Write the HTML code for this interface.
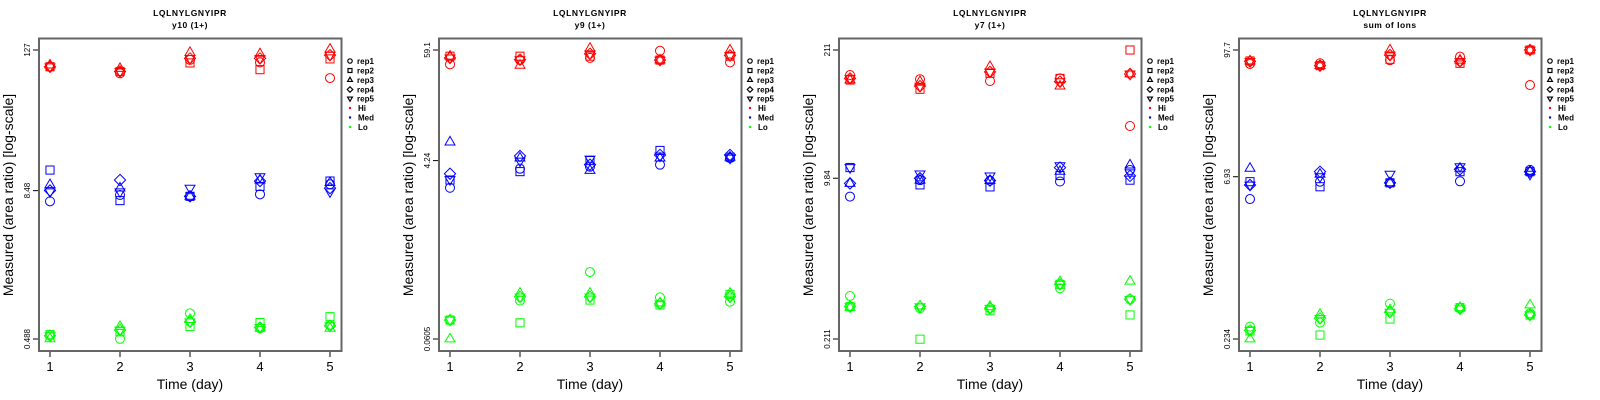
<!DOCTYPE html>
<html><head><meta charset="utf-8">
<style>
html,body{margin:0;padding:0;background:#fff;}
svg{display:block;font-family:"Liberation Sans",sans-serif;}
</style></head>
<body>
<svg id="chart" width="1600" height="400" viewBox="0 0 1600 400"></svg>
<script>
// ---- data ----
const days = [1,2,3,4,5];
const reps = ["rep1","rep2","rep3","rep4","rep5"];
const levels = ["Hi","Med","Lo"];
const panelTitles = ["y10 (1+)","y9 (1+)","y7 (1+)","sum of Ions"];
const peptide = "LQLNYLGNYIPR";
const yMin = [0.488, 0.0605, 0.211, 0.234];
const yMax = [127, 59.1, 211, 97.7];
const yMidTick = [8.48, 4.24, 9.84, 6.93];
const yTickLabels = [["0.488","8.48","127"],["0.0605","4.24","59.1"],["0.211","9.84","211"],["0.234","6.93","97.7"]];

// values[panel][level][day] = [rep1..rep5]
const p1Hi  = [[92,92,95,92,92],[81,84,89,84,84],[105,99,121,108,108],[100,87,118,108,108],[74,107,129,115,115]];
const p1Med = [[6.9,12.6,9.5,8.5,8.3],[7.8,7.0,8.9,10.4,8.3],[7.6,7.6,7.6,7.6,8.9],[7.9,9.2,10.4,10.2,11.1],[9.6,10.2,9.9,8.9,8.3]];
const p1Lo  = [[0.53,0.53,0.49,0.52,0.52],[0.49,0.56,0.62,0.58,0.58],[0.80,0.62,0.71,0.68,0.68],[0.60,0.67,0.60,0.61,0.61],[0.64,0.75,0.60,0.63,0.63]];
const p2Hi  = [[42,51,51,49,49],[46.5,51,41,47,47],[49,51,61.5,54,54],[58,46.5,46.5,46.5,46.5],[44,51,59,52,52]];
const p2Med = [[2.22,2.67,6.6,3.1,2.7],[3.5,3.26,4.5,4.73,4.2],[3.67,4.24,3.35,3.85,4.4],[3.85,5.4,4.5,4.85,4.73],[4.5,4.6,4.6,4.85,4.5]];
const p2Lo  = [[0.095,0.095,0.0605,0.095,0.095],[0.151,0.089,0.18,0.165,0.165],[0.298,0.153,0.18,0.165,0.165],[0.163,0.136,0.143,0.14,0.14],[0.147,0.175,0.18,0.165,0.165]];
const p3Hi  = [[116,103,103,107,107],[105,82.5,99,89,89],[100.6,121,142,125,125],[107,107,89,99,99],[34.3,211,119,119,119]];
const p3Med = [[6.35,12.7,8.7,8.7,12.7],[9.4,8.4,9.4,9.84,10.9],[9.3,8.0,9.3,9.3,10.4],[9.1,10.5,11.6,12.7,13.3],[12,9.4,13.5,10.4,11.2]];
const p3Lo  = [[0.59,0.457,0.45,0.457,0.457],[0.44,0.21,0.465,0.457,0.457],[0.44,0.415,0.457,0.44,0.44],[0.71,0.78,0.83,0.78,0.78],[0.545,0.375,0.84,0.545,0.545]];
const p4Hi  = [[73,77.7,77.7,77,77],[74,70.5,70.5,70.5,70.5],[79,80.5,97.7,88,88],[85,74,79,77,77],[47,97.7,97.7,97.7,97.7]];
const p4Med = [[4.35,6.25,8.26,5.83,5.83],[6.25,5.62,7.3,7.7,6.93],[6.1,6.1,6.1,6.1,7.3],[6.3,7.7,8.26,8.1,8.55],[8.0,7.7,7.7,7.7,7.3]];
const p4Lo  = [[0.303,0.277,0.234,0.28,0.28],[0.33,0.254,0.392,0.36,0.36],[0.49,0.355,0.43,0.41,0.41],[0.45,0.45,0.45,0.44,0.44],[0.40,0.386,0.476,0.386,0.386]];
const panelData = [[p1Hi,p1Med,p1Lo],[p2Hi,p2Med,p2Lo],[p3Hi,p3Med,p3Lo],[p4Hi,p4Med,p4Lo]];
const levelColors = ["#ff0000","#0000ff","#00ff00"];

const NS = "http://www.w3.org/2000/svg";
const svg = document.getElementById("chart");
function mk(tag, attrs, parent, text){
  const e = document.createElementNS(NS, tag);
  for (const k in attrs) e.setAttribute(k, attrs[k]);
  if (text !== undefined) e.textContent = text;
  parent.appendChild(e);
  return e;
}
function marker(g, shape, cx, cy, r, color){
  let e;
  if (shape === 0) e = mk("circle", {cx:cx, cy:cy, r:r}, g);
  else if (shape === 1) e = mk("rect", {x:cx-r*0.9, y:cy-r*0.9, width:r*1.8, height:r*1.8}, g);
  else if (shape === 2) e = mk("polygon", {points:`${cx},${cy-r*1.25} ${cx+r*1.1},${cy+r*0.65} ${cx-r*1.1},${cy+r*0.65}`}, g);
  else if (shape === 3) e = mk("polygon", {points:`${cx},${cy-r*1.25} ${cx+r*1.25},${cy} ${cx},${cy+r*1.25} ${cx-r*1.25},${cy}`}, g);
  else e = mk("polygon", {points:`${cx},${cy+r*1.25} ${cx+r*1.1},${cy-r*0.65} ${cx-r*1.1},${cy-r*0.65}`}, g);
  e.setAttribute("fill", "none");
  e.setAttribute("stroke", color);
  e.setAttribute("stroke-width", r < 3 ? "1.2" : "1");
  return e;
}

for (let p = 0; p < 4; p++){
  const ox = p * 400;
  const g = mk("g", {transform:`translate(${ox},0)`}, svg);
  
  
  const xScale = d => 50 + (d - 1) * 70;
  const lmin = Math.log(yMin[p]), lmax = Math.log(yMax[p]);
  const yScale = v => 339 - (Math.log(v) - lmin) / (lmax - lmin) * 289;

  const t1 = mk("text", {x:190, y:16, "text-anchor":"middle", "font-size":"8.5", "font-weight":"bold", "letter-spacing":"0.6"}, g, peptide);
  
  
  const t2 = mk("text", {x:190, y:28, "text-anchor":"middle", "font-size":"8.5", "font-weight":"bold", "letter-spacing":"0.5"}, g, panelTitles[p]);
  
  

  const box = mk("rect", {x:39, y:38.5, width:302.5, height:312.5, fill:"none", stroke:"#666", "stroke-width":"2"}, g);
  
  

  // x axis
  for (let i = 0; i < days.length; i++){
    const x = xScale(days[i]);
    mk("line", {x1:x, y1:352, x2:x, y2:357, stroke:"#000", "stroke-width":"1"}, g);
    const tl = mk("text", {x:x, y:371, "text-anchor":"middle", "font-size":"13"}, g, String(days[i]));
    
    
  }
  const xt = mk("text", {x:190, y:389, "text-anchor":"middle", "font-size":"14"}, g, "Time (day)");
  
  

  // y axis
  const yTickVals = [yMin[p], yMidTick[p], yMax[p]];
  for (let i = 0; i < 3; i++){
    const y = yScale(yTickVals[i]);
    mk("line", {x1:33, y1:y, x2:38, y2:y, stroke:"#000", "stroke-width":"1"}, g);
    const tl = mk("text", {x:0, y:0, "text-anchor":"middle", "font-size":"8", transform:`translate(30,${y}) rotate(-90)`}, g, yTickLabels[p][i]);
    
    
  }
  const yt = mk("text", {x:0, y:0, "text-anchor":"middle", "font-size":"14", transform:"translate(13,195) rotate(-90)"}, g, "Measured (area ratio) [log-scale]");
  
  

  // points
  for (let L = 0; L < 3; L++){
    const sg = mk("g", {}, g);
    
    
    for (let d = 0; d < days.length; d++){
      for (let r = 0; r < reps.length; r++){
        const v = panelData[p][L][d][r];
        const m = marker(sg, r, xScale(days[d]), yScale(v), 4.5, levelColors[L]);
        
        
      }
    }
  }

  // legend
  const lg = mk("g", {}, g);
  
  
  const rowsY = [61, 70.5, 80, 89.5, 98.5, 108, 117.5, 127];
  for (let r = 0; r < reps.length; r++){
    const e = mk("g", {}, lg);
    
    
    marker(e, r, 350, rowsY[r], 2.2, "#000");
    mk("text", {x:357, y:rowsY[r] + 3, "font-size":"8", "font-weight":"bold"}, e, reps[r]);
  }
  for (let L = 0; L < 3; L++){
    const e = mk("g", {}, lg);
    
    
    const yy = rowsY[5 + L];
    mk("circle", {cx:350, cy:yy, r:1.2, fill:levelColors[L]}, e);
    mk("text", {x:358, y:yy + 3, "font-size":"8", "font-weight":"bold"}, e, levels[L]);
  }
}
</script>
</body></html>
